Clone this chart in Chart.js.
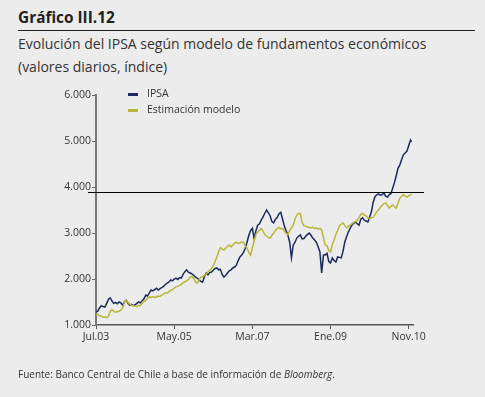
<!DOCTYPE html>
<html>
<head>
<meta charset="utf-8">
<script src="https://cdn.jsdelivr.net/npm/chart.js@4.4.0/dist/chart.umd.min.js"></script>
<style>
  html, body { margin:0; padding:0; background:#ececec; width:485px; height:397px; overflow:hidden; }
  body { position:relative; font-family:"Open Sans", "Noto Sans", sans-serif; color:#333; }
  #title { position:absolute; left:18px; top:7px; font-weight:bold; font-size:15.4px; color:#222; }
  #rule { position:absolute; left:18px; top:30px; width:457px; height:1px; background:#222; }
  #sub1 { position:absolute; left:18px; top:34px; font-size:14px; color:#333; white-space:nowrap; }
  #sub2 { position:absolute; left:18px; top:57px; font-size:14px; color:#333; white-space:nowrap; }
  #foot { position:absolute; left:18px; top:367px; font-size:10px; color:#333; white-space:nowrap; }
  #chart { position:absolute; left:0; top:0; }
  .leg { position:absolute; font-size:10.5px; color:#333; white-space:nowrap; }
  .sw { position:absolute; width:10px; height:3px; }
</style>
</head>
<body>
<div id="title">Gráfico III.12</div>
<div id="rule"></div>
<div id="sub1">Evolución del IPSA según modelo de fundamentos económicos</div>
<div id="sub2">(valores diarios, índice)</div>
<canvas id="chart" width="485" height="397"></canvas>
<div class="sw" style="left:128px;top:93px;background:#1c2b5c"></div>
<div class="leg" style="left:147px;top:86px">IPSA</div>
<div class="sw" style="left:128px;top:109px;background:#b9b738"></div>
<div class="leg" style="left:147px;top:102px">Estimación modelo</div>
<div id="foot">Fuente: Banco Central de Chile a base de información de <i>Bloomberg</i>.</div>
<script>
// x positions: months since Jul.2003
const tickMonths = [0, 22, 44, 66, 88];
const tickLabels = ["Jul.03", "May.05", "Mar.07", "Ene.09", "Nov.10"];
const yTicks = [1000, 2000, 3000, 4000, 5000, 6000];
const refLevel = 3885;

const months = [
  0,0.5,1,1.5,2,2.5,3,3.5,4,4.5,
  5,5.5,6,6.5,7,7.5,8,8.5,9,9.5,
  10,10.5,11,11.5,12,12.5,13,13.5,14,14.5,
  15,15.5,16,16.5,17,17.5,18,18.5,19,19.5,
  20,20.5,21,21.5,22,22.5,23,23.5,24,24.5,
  25,25.5,26,26.5,27,27.5,28,28.5,29,29.5,
  30,30.5,31,31.5,32,32.5,33,33.5,34,34.5,
  35,35.5,36,36.5,37,37.5,38,38.5,39,39.5,
  40,40.5,41,41.5,42,42.5,43,43.5,44,44.5,
  45,45.5,46,46.5,47,47.5,48,48.5,49,49.5,
  50,50.5,51,51.5,52,52.5,53,53.5,54,54.5,
  55,55.5,56,56.5,57,57.5,58,58.5,59,59.5,
  60,60.5,61,61.5,62,62.5,63,63.5,64,64.5,
  65,65.5,66,66.5,67,67.5,68,68.5,69,69.5,
  70,70.5,71,71.5,72,72.5,73,73.5,74,74.5,
  75,75.5,76,76.5,77,77.5,78,78.5,79,79.5,
  80,80.5,81,81.5,82,82.5,83,83.5,84,84.5,
  85,85.5,86,86.5,87,87.5,88,88.5,88.8
];

const ipsaValue = [
  1280,1300,1370,1420,1400,1390,1470,1560,1590,1520,
  1470,1490,1460,1500,1480,1430,1500,1540,1470,1430,
  1450,1420,1440,1470,1500,1480,1530,1570,1650,1630,
  1700,1760,1740,1770,1800,1760,1790,1810,1840,1880,
  1910,1930,1980,1960,2000,2020,1990,2030,2020,2100,
  2160,2200,2150,2130,2110,2080,2040,2020,1980,1950,
  1930,2050,2130,2090,2140,2150,2190,2230,2240,2200,
  2210,2100,2040,2080,2130,2180,2200,2240,2260,2300,
  2400,2480,2520,2580,2670,2800,2950,3050,3100,2880,
  3050,3170,3200,3280,3350,3430,3500,3440,3370,3250,
  3220,3300,3340,3420,3450,3300,3150,3050,2950,2800,
  2460,2740,2800,2890,2930,2960,2870,2880,2930,2970,
  3000,2950,2890,2850,2800,2700,2590,2130,2520,2520,
  2560,2380,2350,2460,2400,2370,2480,2470,2460,2600,
  2800,2920,3020,3100,3170,3210,3240,3200,3170,3300,
  3330,3280,3260,3240,3350,3460,3670,3790,3830,3850,
  3820,3830,3870,3800,3780,3830,3860,3980,4100,4250,
  4410,4480,4600,4700,4740,4780,4900,5020,4980
];

const modelValue = [
  1220,1230,1200,1190,1170,1180,1160,1190,1300,1330,
  1300,1280,1290,1300,1320,1370,1500,1540,1490,1450,
  1430,1420,1410,1400,1430,1420,1470,1510,1540,1580,
  1610,1600,1620,1600,1610,1630,1620,1650,1670,1700,
  1690,1720,1750,1770,1800,1830,1840,1860,1880,1920,
  1940,1960,1990,2040,2050,2010,1930,1910,1980,2040,
  2050,2080,2110,2150,2190,2230,2290,2380,2480,2590,
  2680,2650,2630,2670,2710,2740,2700,2740,2780,2800,
  2770,2790,2800,2800,2720,2670,2580,2520,2680,2820,
  2970,3020,3060,3100,3040,2960,2930,2900,2890,2950,
  3000,3060,3100,3120,3090,3100,3040,2990,2960,3050,
  3110,3170,3300,3390,3430,3420,3230,3160,3150,3130,
  3120,3110,3130,3100,3110,3090,3100,3065,2900,2740,
  2720,2620,2590,2750,2850,2970,3050,3160,3190,3220,
  3160,3110,3150,3170,3200,3230,3250,3280,3340,3400,
  3430,3390,3370,3330,3310,3330,3340,3400,3460,3500,
  3560,3600,3640,3650,3600,3540,3580,3610,3570,3540,
  3650,3760,3800,3830,3800,3780,3810,3830,3840
];

const ipsaColor = "#1c2b5c";
const modelColor = "#b9b738";

const refLinePlugin = {
  id: "refLine",
  afterDatasetsDraw(chart) {
    const { ctx, chartArea, scales } = chart;
    const y = Math.round(scales.y.getPixelForValue(refLevel)) + 0.5;
    ctx.save();
    ctx.strokeStyle = "#000";
    ctx.lineWidth = 1;
    ctx.beginPath();
    ctx.moveTo(chartArea.left - 8, y);
    ctx.lineTo(chartArea.right + 11, y);
    ctx.stroke();
    ctx.restore();
  }
};

new Chart(document.getElementById("chart"), {
  type: "line",
  data: {
    datasets: [
      { label: "Estimación modelo", data: months.map((m, i) => ({ x: m, y: modelValue[i] })),
        borderColor: modelColor, borderWidth: 1.5, pointRadius: 0, tension: 0 },
      { label: "IPSA", data: months.map((m, i) => ({ x: m, y: ipsaValue[i] })),
        borderColor: ipsaColor, borderWidth: 1.5, pointRadius: 0, tension: 0 }
    ]
  },
  options: {
    responsive: false,
    animation: false,
    devicePixelRatio: 1,
    layout: { padding: { left: 0, top: 95, right: 72, bottom: 42 } },
    plugins: { legend: { display: false }, tooltip: { enabled: false } },
    scales: {
      x: {
        type: "linear", min: 0, max: 89.2,
        afterBuildTicks: (s) => { s.ticks = tickMonths.map(v => ({ value: v })); },
        afterFit: (s) => { s.height = 30; },
        ticks: {
          autoSkip: false, maxRotation: 0, padding: 2,
          color: "#333", font: { family: "Open Sans", size: 10.5 },
          callback: (v) => tickLabels[tickMonths.indexOf(v)] ?? ""
        },
        grid: { drawOnChartArea: false, drawTicks: true, tickLength: 4, color: "#555", lineWidth: 1 },
        border: { display: true, color: "#555", width: 1.5 }
      },
      y: {
        min: 1000, max: 6000,
        afterBuildTicks: (s) => { s.ticks = yTicks.map(v => ({ value: v })); },
        afterFit: (s) => { s.width = 96; },
        ticks: {
          padding: 1, color: "#333", font: { family: "Open Sans", size: 10.5 },
          callback: (v) => v.toLocaleString("de-DE")
        },
        grid: { drawOnChartArea: false, drawTicks: true, tickLength: 4, color: "#666", lineWidth: 1 },
        border: { display: true, color: "#777", width: 2 }
      }
    }
  },
  plugins: [refLinePlugin]
});
</script>
</body>
</html>
